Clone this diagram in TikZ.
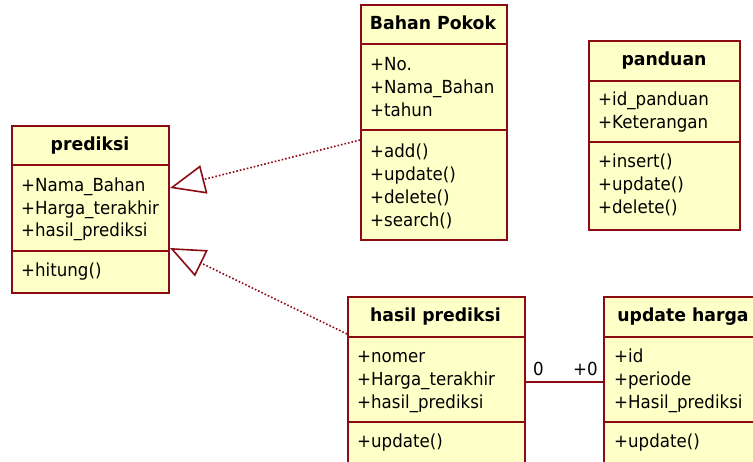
\documentclass[tikz,border=0pt]{standalone}
\usepackage{fontspec}
\setmainfont[FakeStretch=0.925, BoldFeatures={FakeStretch=0.96}]{DejaVu Sans}
\usetikzlibrary{arrows.meta}
\definecolor{umlred}{RGB}{140,10,20}
\definecolor{umlfill}{RGB}{255,255,200}
\tikzset{
  cls/.style={draw=umlred, fill=umlfill, line width=1.6pt, rectangle, anchor=north west, inner sep=0pt},
  sep/.style={draw=umlred, line width=1.6pt},
  ttl/.style={font=\fontsize{18}{20}\selectfont\bfseries, anchor=base, inner sep=0pt},
  itm/.style={font=\fontsize{18}{20}\selectfont, anchor=base west, inner sep=0pt},
  realize/.style={draw=umlred, line width=1.6pt, dash pattern=on 1.6pt off 2pt,
    -{Triangle[open, length=35pt, width=29pt, line width=1.6pt, fill=white]}},
  assoc/.style={draw=umlred, line width=1.6pt},
}
\begin{document}
\begin{tikzpicture}[x=1pt, y=-1pt]
\useasboundingbox (0,0) rectangle (753,462);
\clip (0,0) rectangle (753,462);

% prediksi
\node[cls, minimum width=157pt, minimum height=167pt] (pr) at (11,125) {};
\draw[sep] (11,165) -- (168,165);
\draw[sep] (11,251) -- (168,251);
\node[ttl] (prt) at (90,151) {prediksi};
\node[itm] (pr1) at (21,192) {+Nama\_Bahan};
\node[itm] (pr2) at (21,214.5) {+Harga\_terakhir};
\node[itm] (pr3) at (21,237) {+hasil\_prediksi};
\node[itm] (pr4) at (21,277) {+hitung()};

% Bahan Pokok
\node[cls, minimum width=146pt, minimum height=235pt] (bp) at (360,4) {};
\draw[sep] (360,44) -- (506,44);
\draw[sep] (360,130) -- (506,130);
\node[ttl] (bpt) at (433,30) {Bahan Pokok};
\node[itm] (bp1) at (370,71) {+No.};
\node[itm] (bp2) at (370,94) {+Nama\_Bahan};
\node[itm] (bp3) at (370,117) {+tahun};
\node[itm] (bp4) at (370,158) {+add()};
\node[itm] (bp5) at (370,181) {+update()};
\node[itm] (bp6) at (370,204) {+delete()};
\node[itm] (bp7) at (370,227) {+search()};

% panduan
\node[cls, minimum width=151pt, minimum height=189pt] (pd) at (588,40) {};
\draw[sep] (588,81) -- (739,81);
\draw[sep] (588,142) -- (739,142);
\node[ttl] (pdt) at (664,66) {panduan};
\node[itm] (pd1) at (598,106) {+id\_panduan};
\node[itm] (pd2) at (598,129) {+Keterangan};
\node[itm] (pd3) at (598,168) {+insert()};
\node[itm] (pd4) at (598,191) {+update()};
\node[itm] (pd5) at (598,214) {+delete()};

% hasil prediksi
\node[cls, minimum width=177pt, minimum height=172pt] (hp) at (347,296) {};
\draw[sep] (347,337) -- (524,337);
\draw[sep] (347,422) -- (524,422);
\node[ttl] (hpt) at (435.5,322) {hasil prediksi};
\node[itm] (hp1) at (357,363) {+nomer};
\node[itm] (hp2) at (357,386) {+Harga\_terakhir};
\node[itm] (hp3) at (357,409) {+hasil\_prediksi};
\node[itm] (hp4) at (357,448) {+update()};

% update harga
\node[cls, minimum width=160pt, minimum height=172pt] (uh) at (603,296) {};
\draw[sep] (603,337) -- (763,337);
\draw[sep] (603,422) -- (763,422);
\node[ttl] (uht) at (683,322) {update harga};
\node[itm] (uh1) at (614,363) {+id};
\node[itm] (uh2) at (614,386) {+periode};
\node[itm] (uh3) at (614,409) {+Hasil\_prediksi};
\node[itm] (uh4) at (614,448) {+update()};

% connectors
\coordinate (bpin) at (bp.north west |- 0,140);
\coordinate (prin1) at (170,188);
\coordinate (hpin) at (hp.north west |- 0,334);
\coordinate (prin2) at (170,248);
\draw[realize] (bpin) -- (prin1);
\draw[realize] (hpin) -- (prin2);

\coordinate (hpout) at (hp.north east |- 0,382);
\coordinate (uhin) at (uh.north west |- 0,382);
\draw[assoc] (hpout) -- (uhin);
\node[itm] (m1) at (533,376) {0};
\node[itm] (m2) at (573,376) {+0};
\end{tikzpicture}
\end{document}
